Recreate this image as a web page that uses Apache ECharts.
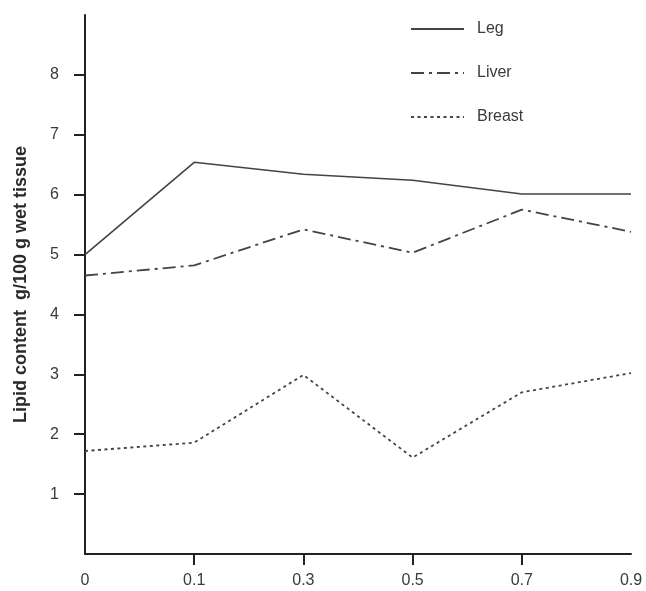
<!DOCTYPE html>
<html>
<head>
<meta charset="utf-8">
<script src="https://cdn.jsdelivr.net/npm/echarts@6/dist/echarts.min.js"></script>
<style>
html,body{margin:0;padding:0;background:#fff;}
#chart{width:646px;height:591px;}
</style>
</head>
<body>
<div id="chart"></div>
<script>
const categories = ['0', '0.1', '0.3', '0.5', '0.7', '0.9'];
const legValues = [5.0, 6.54, 6.34, 6.24, 6.01, 6.01];
const liverValues = [4.65, 4.82, 5.42, 5.03, 5.75, 5.38];
const breastValues = [1.72, 1.86, 2.99, 1.61, 2.70, 3.02];
const yTicks = [1, 2, 3, 4, 5, 6, 7, 8];

const chart = echarts.init(document.getElementById('chart'));
const font = 'Liberation Sans, Arial, Helvetica, sans-serif';
const ink = '#3a3a3a';
chart.setOption({
  animation: false,
  backgroundColor: '#ffffff',
  textStyle: {fontFamily: font},
  grid: {left: 85, right: 15, top: 15, bottom: 37, containLabel: false},
  legend: {
    orient: 'vertical',
    left: 405,
    top: 16,
    itemWidth: 53,
    itemHeight: 14,
    itemGap: 28,
    itemStyle: {opacity: 0},
    textStyle: {fontSize: 16, color: ink, fontFamily: font, padding: [0, 0, 0, 8]},
    data: ['Leg', 'Liver', 'Breast']
  },
  xAxis: {
    type: 'category',
    data: categories,
    boundaryGap: false,
    axisLine: {lineStyle: {color: '#222', width: 2}},
    axisTick: {
      show: true, length: 11, lineStyle: {color: '#222', width: 2},
      interval: function (i) { return i !== 0 && i !== categories.length - 1; }
    },
    axisLabel: {fontSize: 16, color: ink, margin: 19, fontFamily: font},
    splitLine: {show: false}
  },
  yAxis: {
    type: 'value',
    min: 0,
    max: 9,
    interval: 1,
    name: 'Lipid content  g/100 g wet tissue',
    nameLocation: 'middle',
    nameGap: 55,
    nameTextStyle: {fontSize: 18, fontWeight: 'bold', color: '#2a2a2a', fontFamily: font},
    axisLine: {show: true, lineStyle: {color: '#222', width: 2}},
    axisTick: {show: true, length: 11, lineStyle: {color: '#222', width: 2},
      customValues: yTicks},
    axisLabel: {fontSize: 16, color: ink, margin: 26, fontFamily: font,
      customValues: yTicks},
    splitLine: {show: false}
  },
  series: [
    {
      name: 'Leg', type: 'line', data: legValues, symbol: 'none',
      lineStyle: {color: '#444', width: 1.6, type: 'solid'},
      itemStyle: {color: '#444'}
    },
    {
      name: 'Liver', type: 'line', data: liverValues, symbol: 'none',
      lineStyle: {color: '#444', width: 1.8, type: [13, 5, 3, 5]},
      itemStyle: {color: '#444'}
    },
    {
      name: 'Breast', type: 'line', data: breastValues, symbol: 'none',
      lineStyle: {color: '#444', width: 1.8, type: [3, 3.5]},
      itemStyle: {color: '#444'}
    }
  ]
});
</script>
</body>
</html>
